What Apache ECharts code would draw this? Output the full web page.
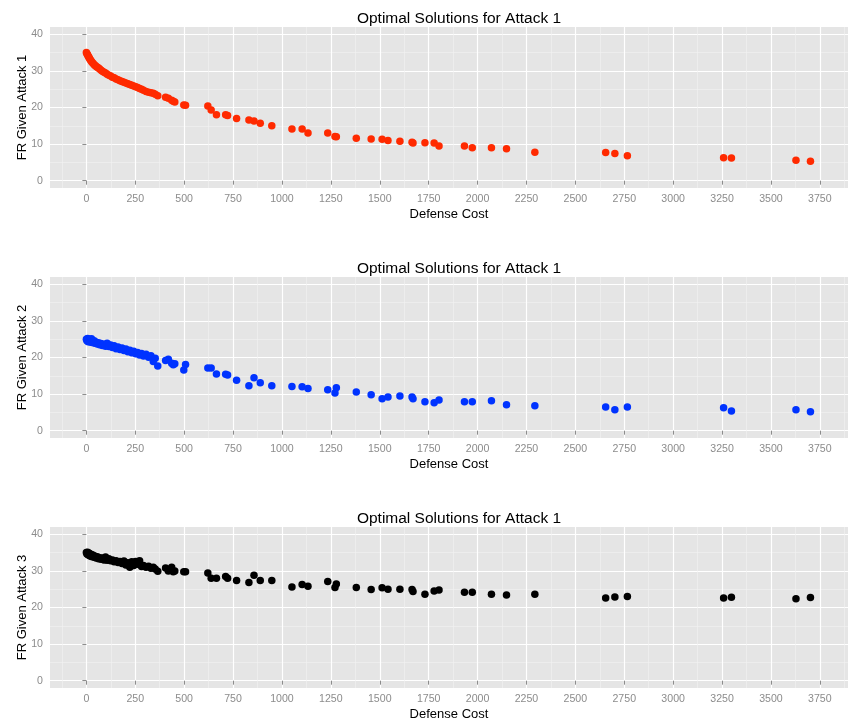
<!DOCTYPE html>
<html>
<head>
<meta charset="utf-8">
<script src="https://cdn.jsdelivr.net/npm/echarts@6/dist/echarts.min.js"></script>
<style>html,body{margin:0;padding:0;background:#fff;}#c{width:848px;height:724px;}</style>
</head>
<body>
<div id="c"></div>
<script>
// ---- data ----
const defenseCost = [0, 3, 6, 9, 12, 15, 18, 22, 26, 30, 35, 40, 45, 50, 56, 62, 68, 75, 82, 90, 98, 106, 115, 124, 133, 142, 152, 162, 172, 182, 192, 202, 212, 222, 232, 242, 252, 262, 272, 282, 292, 305, 318, 330, 342, 352, 365, 405, 419, 436, 444, 452,
  498, 507, 621, 638, 665, 712, 722, 768, 831, 857, 889, 948, 1051, 1103, 1133, 1234, 1271, 1278, 1380, 1456, 1512, 1542, 1603, 1665, 1670, 1731, 1778, 1803, 1933, 1973, 2071, 2148, 2293, 2655, 2702, 2766, 3258, 3298, 3628, 3702];

const frAttack1 = [35.0, 34.7, 34.4, 34.1, 33.8, 33.5, 33.2, 32.9, 32.6, 32.3, 32.0, 31.7, 31.5, 31.2, 31.0, 30.8, 30.5, 30.2, 29.9, 29.6, 29.4, 29.1, 28.8, 28.6, 28.3, 28.1, 27.8, 27.6, 27.3, 27.1, 26.9, 26.7, 26.5, 26.3, 26.1, 25.9, 25.7, 25.5, 25.2, 25.0, 24.7, 24.4, 24.2, 24.0, 23.9, 23.6, 23.2, 22.8, 22.5, 22.0, 21.7, 21.5,
  20.7, 20.6, 20.4, 19.3, 18.0, 18.0, 17.8, 17.0, 16.6, 16.3, 15.7, 15.0, 14.1, 14.1, 13.0, 13.0, 12.1, 12.0, 11.6, 11.4, 11.3, 11.0, 10.8, 10.5, 10.3, 10.4, 10.3, 9.5, 9.5, 9.0, 9.0, 8.7, 7.8, 7.7, 7.4, 6.8, 6.3, 6.2, 5.6, 5.3];

const frAttack2 = [25.0, 24.6, 25.2, 24.3, 25.0, 24.5, 24.9, 24.2, 25.1, 24.4, 24.0, 24.6, 23.9, 24.2, 23.7, 24.0, 23.5, 23.8, 23.3, 23.6, 23.1, 23.9, 23.0, 23.4, 22.7, 23.2, 22.4, 22.9, 22.2, 22.6, 21.9, 22.3, 21.6, 22.0, 21.3, 21.7, 21.0, 21.4, 20.7, 21.1, 20.4, 20.9, 20.1, 20.5, 18.9, 19.8, 17.7, 19.2, 19.5, 18.4, 18.0, 18.3,
  16.6, 18.1, 17.1, 17.1, 15.5, 15.4, 15.2, 13.8, 12.3, 14.5, 13.1, 12.3, 12.1, 12.0, 11.5, 11.2, 10.3, 11.7, 10.6, 9.8, 8.7, 9.2, 9.5, 9.2, 8.7, 7.9, 7.6, 8.4, 7.9, 7.9, 8.2, 7.1, 6.8, 6.5, 5.7, 6.5, 6.3, 5.4, 5.7, 5.2];

const frAttack3 = [35.0, 34.6, 35.1, 34.4, 34.9, 34.2, 34.7, 34.0, 34.5, 33.9, 34.3, 33.7, 34.0, 33.5, 33.9, 33.3, 33.6, 33.2, 33.5, 33.0, 33.8, 32.9, 33.3, 32.8, 33.0, 32.5, 32.8, 32.3, 32.6, 32.0, 32.7, 31.6, 32.2, 31.0, 32.5, 31.5, 32.6, 31.8, 32.8, 31.2, 31.5, 31.0, 31.3, 30.7, 31.0, 30.5, 29.9, 30.8, 30.0, 31.0, 29.8, 30.0,
  29.8, 29.8, 29.4, 28.0, 28.0, 28.5, 28.0, 27.4, 26.8, 28.8, 27.4, 27.4, 25.6, 26.3, 25.8, 27.1, 25.5, 26.4, 25.5, 24.9, 25.4, 25.0, 25.0, 24.9, 24.4, 23.6, 24.5, 24.8, 24.2, 24.2, 23.6, 23.4, 23.6, 22.6, 22.9, 23.0, 22.6, 22.8, 22.4, 22.7];

const xTicks = [0, 250, 500, 750, 1000, 1250, 1500, 1750, 2000, 2250, 2500, 2750, 3000, 3250, 3500, 3750];
const xMinorTicks = [-125, 125, 375, 625, 875, 1125, 1375, 1625, 1875, 2125, 2375, 2625, 2875, 3125, 3375, 3625, 3875];
const yTicks = [0, 10, 20, 30, 40];
const yMinorTicks = [5, 15, 25, 35];

const titles = ['Optimal Solutions for Attack 1', 'Optimal Solutions for Attack 1', 'Optimal Solutions for Attack 1'];
const yNames = ['FR Given Attack 1', 'FR Given Attack 2', 'FR Given Attack 3'];
const xName = 'Defense Cost';
const seriesValues = [frAttack1, frAttack2, frAttack3];
const colors = ['#FF2A00', '#0033FF', '#000000'];

// ---- layout ----
const panelTops = [27, 277, 527];
const panelH = 161;
const panelLeft = 50;
const panelRight = -10;
const xMin = -186, xMax = 3894;
const yMin = -2, yMax = 42;
const labelColor = '#8C8C8C';
const font = 'Liberation Sans, Arial, sans-serif';
const plain = v => String(v);

const grids = [], xAxes = [], yAxes = [], series = [], title = [];
panelTops.forEach((top, i) => {
  grids.push({left: panelLeft, right: panelRight, top: top, height: panelH,
    show: true, backgroundColor: '#E5E5E5', borderWidth: 0, containLabel: false});
  xAxes.push({type: 'value', gridIndex: i, min: xMin, max: xMax, position: 'bottom',
    name: xName, nameLocation: 'middle', nameGap: 20, nameMoveOverlap: false,
    nameTextStyle: {color: '#000', fontSize: 13, fontFamily: font},
    axisLine: {show: false},
    axisTick: {show: true, length: 4, customValues: xTicks, lineStyle: {color: labelColor, width: 1}},
    axisLabel: {show: true, customValues: xTicks, formatter: plain, margin: 6, color: labelColor, fontSize: 10.6, fontFamily: font},
    splitLine: {show: true, lineStyle: {color: '#FFFFFF', width: 1.2}}
  });
  xAxes.push({type: 'value', gridIndex: i, min: xMin, max: xMax, position: 'bottom',
    axisLine: {show: false}, axisTick: {show: false, customValues: xMinorTicks},
    axisLabel: {show: false, customValues: xMinorTicks},
    splitLine: {show: true, lineStyle: {color: '#F2F2F2', width: 0.6}}
  });
  yAxes.push({type: 'value', gridIndex: i, min: yMin, max: yMax, position: 'left',
    name: yNames[i], nameLocation: 'middle', nameGap: 21, nameMoveOverlap: false,
    nameTextStyle: {color: '#000', fontSize: 13, fontFamily: font},
    axisLine: {show: false},
    axisTick: {show: true, length: 4, customValues: yTicks, lineStyle: {color: labelColor, width: 1}},
    axisLabel: {show: true, customValues: yTicks, formatter: plain, margin: 7, color: labelColor, fontSize: 10.6, fontFamily: font},
    splitLine: {show: true, lineStyle: {color: '#FFFFFF', width: 1.2}}
  });
  yAxes.push({type: 'value', gridIndex: i, min: yMin, max: yMax, position: 'left',
    axisLine: {show: false}, axisTick: {show: false, customValues: yMinorTicks},
    axisLabel: {show: false, customValues: yMinorTicks},
    splitLine: {show: true, lineStyle: {color: '#F2F2F2', width: 0.6}}
  });
  series.push({type: 'scatter', xAxisIndex: 2 * i, yAxisIndex: 2 * i,
    symbolSize: 7.5, itemStyle: {color: colors[i], opacity: 1},
    data: defenseCost.map((x, k) => [x, seriesValues[i][k]]), z: 5, silent: true});
  title.push({text: titles[i], left: 454, top: top - 21, textAlign: 'center',
    textStyle: {color: '#000', fontSize: 15.5, fontWeight: 'normal', fontFamily: font}});
});

const chart = echarts.init(document.getElementById('c'), null, {renderer: 'canvas'});
chart.setOption({
  animation: false,
  backgroundColor: '#FFFFFF',
  title: title,
  grid: grids,
  xAxis: xAxes,
  yAxis: yAxes,
  series: series
});
</script>
</body>
</html>
